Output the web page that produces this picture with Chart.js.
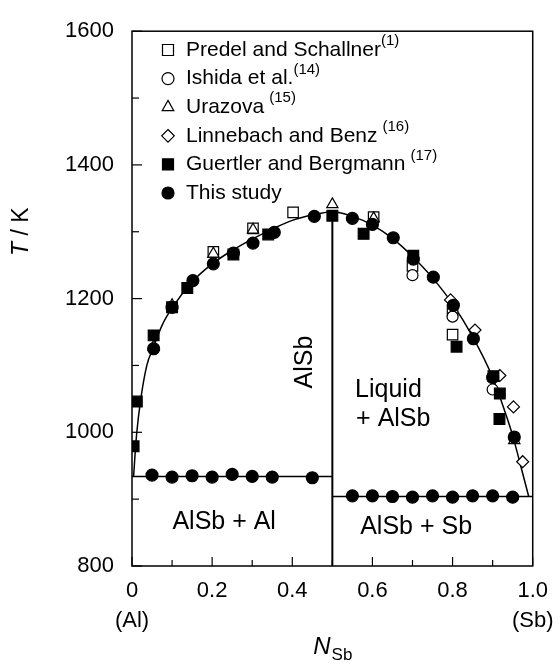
<!DOCTYPE html>
<html>
<head>
<meta charset="utf-8">
<script src="https://cdn.jsdelivr.net/npm/chart.js@4.4.0/dist/chart.umd.min.js"></script>
<style>
  html, body { margin: 0; padding: 0; background: #fff; }
  #wrap { width: 560px; height: 668px; }
</style>
</head>
<body>
<div id="wrap"><canvas id="chart" width="560" height="668"></canvas></div>
<script>
// Liquidus (berechnete Kurve)
const curveN = [0.004, 0.008, 0.012, 0.021, 0.037, 0.054, 0.075, 0.1, 0.15, 0.2, 0.25, 0.3, 0.35, 0.4, 0.45, 0.5,
                0.55, 0.6, 0.65, 0.7, 0.75, 0.8, 0.85, 0.9, 0.93, 0.95, 0.97, 0.99];
const curveT = [934, 970, 1000, 1046, 1100, 1128, 1160, 1186, 1225, 1252, 1272, 1289, 1304, 1317, 1325, 1330,
                1323, 1310, 1290, 1263, 1231, 1192, 1143, 1082, 1032, 995, 950, 904];

// Eutektika
const eutAlN = [0, 0.5];
const eutAlT = [934, 934];
const eutSbN = [0.5, 1.0];
const eutSbT = [904, 904];
const alsbN = [0.5, 0.5];
const alsbT = [800, 1330];

// This study
const studyLiqN = [0.054, 0.1, 0.152, 0.203, 0.253, 0.302, 0.355, 0.455, 0.55, 0.6, 0.652, 0.702, 0.752, 0.802, 0.852, 0.9, 0.954];
const studyLiqT = [1125, 1187, 1227, 1252, 1268, 1283, 1299, 1323, 1320, 1311, 1291, 1259, 1232, 1190, 1140, 1082, 993];
const studyEutAlN = [0.05, 0.1, 0.15, 0.2, 0.25, 0.3, 0.35, 0.45];
const studyEutAlT = [936, 933, 935, 933, 937, 934, 933, 932];
const studyEutSbN = [0.55, 0.6, 0.65, 0.7, 0.75, 0.8, 0.85, 0.9, 0.95];
const studyEutSbT = [905, 905, 904, 903, 905, 903, 905, 905, 903];

// Literatur
const guertlerN = [0.004, 0.012, 0.054, 0.1, 0.138, 0.253, 0.34, 0.5, 0.578, 0.702, 0.81, 0.902, 0.918, 0.917];
const guertlerT = [979, 1046, 1145, 1187, 1216, 1266, 1296, 1324, 1297, 1264, 1128, 1084, 1058, 1020];
const predelN = [0.203, 0.302, 0.402, 0.603, 0.70, 0.80, 0.80];
const predelT = [1270, 1305, 1329, 1322, 1249, 1182, 1146];
const ishidaN = [0.70, 0.80, 0.90];
const ishidaT = [1235, 1173, 1064];
const urazovaN = [0.054, 0.1, 0.203, 0.302, 0.5, 0.603, 0.954];
const urazovaT = [1128, 1190, 1267, 1303, 1341, 1320, 988];
const linnebachN = [0.795, 0.856, 0.918, 0.952, 0.975];
const linnebachT = [1198, 1153, 1085, 1038, 956];

// Achsen
const xTicks = [0, 0.2, 0.4, 0.6, 0.8, 1.0];
const yTicks = [800, 1000, 1200, 1400, 1600];

const FONT = "'Liberation Sans', Arial, Helvetica, sans-serif";
const pts = (ns, ts) => ns.map((n, i) => ({ x: n, y: ts[i] }));

const legendItems = [
    { style: 'rect', fill: false, text: 'Predel and Schallner', sup: '(1)', gap: 0 },
    { style: 'circle', fill: false, text: 'Ishida et al.', sup: '(14)', gap: 0 },
    { style: 'triangle', fill: false, text: 'Urazova', sup: '(15)', gap: 5 },
    { style: 'rectRot', fill: false, text: 'Linnebach and Benz', sup: '(16)', gap: 5 },
    { style: 'rect', fill: true, text: 'Guertler and Bergmann', sup: '(17)', gap: 5 },
    { style: 'circle', fill: true, text: 'This study', sup: '', gap: 0 }
];

function marker(label, data, style, radius, filled) {
    return {
        label: label,
        data: data,
        pointStyle: style,
        pointRadius: radius,
        pointHoverRadius: radius,
        pointBorderWidth: 1.2,
        pointBorderColor: '#000',
        pointBackgroundColor: filled ? '#000' : '#fff',
        showLine: false
    };
}

function line(data, width, smooth) {
    return {
        data: data,
        showLine: true,
        pointRadius: 0,
        borderColor: '#000',
        borderWidth: width,
        cubicInterpolationMode: smooth ? 'monotone' : 'default',
        tension: 0
    };
}

function drawGlyph(ctx, style, x, y, filled) {
    ctx.save();
    ctx.lineWidth = 1.2;
    ctx.strokeStyle = '#000';
    ctx.fillStyle = filled ? '#000' : '#fff';
    ctx.beginPath();
    if (style === 'circle') {
        ctx.arc(x, y, 6, 0, Math.PI * 2);
    } else if (style === 'rect') {
        ctx.rect(x - 5.5, y - 5.5, 11, 11);
    } else if (style === 'triangle') {
        ctx.moveTo(x, y - 6.8);
        ctx.lineTo(x + 5.8, y + 3.4);
        ctx.lineTo(x - 5.8, y + 3.4);
        ctx.closePath();
    } else if (style === 'rectRot') {
        ctx.moveTo(x, y - 6.3);
        ctx.lineTo(x + 6.3, y);
        ctx.lineTo(x, y + 6.3);
        ctx.lineTo(x - 6.3, y);
        ctx.closePath();
    }
    ctx.fill();
    ctx.stroke();
    ctx.restore();
}

const decorPlugin = {
    id: 'decor',
    beforeDatasetsDraw(chart) {
        const { ctx, chartArea: a } = chart;
        const xs = chart.scales.x, ys = chart.scales.y;
        ctx.save();
        ctx.strokeStyle = '#000';
        ctx.lineWidth = 1.5;
        ctx.strokeRect(a.left, a.top, a.right - a.left, a.bottom - a.top);
        ctx.lineWidth = 1.2;
        // Teilstriche nach innen
        for (let i = 0; i <= 10; i++) {
            const px = xs.getPixelForValue(i / 10);
            const len = i % 2 === 0 ? 9 : 6;
            ctx.beginPath();
            ctx.moveTo(px, a.bottom);
            ctx.lineTo(px, a.bottom - len);
            ctx.stroke();
        }
        for (let t = 800; t <= 1600; t += 100) {
            const py = ys.getPixelForValue(t);
            const len = t % 200 === 0 ? 10 : 7;
            ctx.beginPath();
            ctx.moveTo(a.left, py);
            ctx.lineTo(a.left + len, py);
            ctx.stroke();
        }
        ctx.restore();
    },
    afterDraw(chart) {
        const { ctx, chartArea: a } = chart;
        const xs = chart.scales.x, ys = chart.scales.y;
        ctx.save();
        ctx.fillStyle = '#000';
        ctx.textBaseline = 'middle';

        // Legende
        const legX = 168, legY0 = 50, legStep = 28.6;
        legendItems.forEach((it, i) => {
            const y = legY0 + i * legStep;
            drawGlyph(ctx, it.style, legX, y, it.fill);
            ctx.font = '21px ' + FONT;
            ctx.textAlign = 'left';
            ctx.fillText(it.text, legX + 18, y);
            if (it.sup) {
                const w = ctx.measureText(it.text).width;
                ctx.font = '15px ' + FONT;
                ctx.fillText(it.sup, legX + 18 + w + it.gap, y - 9);
            }
        });

        // Phasenfelder
        ctx.font = '25px ' + FONT;
        ctx.textAlign = 'center';
        ctx.fillText('Liquid', xs.getPixelForValue(0.64), ys.getPixelForValue(1063));
        ctx.fillText('+ AlSb', xs.getPixelForValue(0.652), ys.getPixelForValue(1019));
        ctx.fillText('AlSb + Al', xs.getPixelForValue(0.23), ys.getPixelForValue(866));
        ctx.fillText('AlSb + Sb', xs.getPixelForValue(0.709), ys.getPixelForValue(858));
        ctx.save();
        ctx.translate(xs.getPixelForValue(0.432), ys.getPixelForValue(1105));
        ctx.rotate(-Math.PI / 2);
        ctx.fillText('AlSb', 0, 0);
        ctx.restore();

        // Achsenbeschriftung x
        ctx.font = '22px ' + FONT;
        ctx.fillText('(Al)', xs.getPixelForValue(0), 621);
        ctx.fillText('(Sb)', xs.getPixelForValue(1), 621);
        ctx.font = 'italic 24px ' + FONT;
        const nW = ctx.measureText('N').width;
        ctx.font = '17px ' + FONT;
        const sW = ctx.measureText('Sb').width;
        const cx = (a.left + a.right) / 2 - (nW + sW) / 2;
        ctx.textAlign = 'left';
        ctx.font = 'italic 24px ' + FONT;
        ctx.fillText('N', cx, 647);
        ctx.font = '17px ' + FONT;
        ctx.fillText('Sb', cx + nW + 1, 655);

        // Achsenbeschriftung y
        ctx.save();
        ctx.translate(22, ys.getPixelForValue(1300));
        ctx.rotate(-Math.PI / 2);
        ctx.font = 'italic 23px ' + FONT;
        const tW = ctx.measureText('T').width;
        ctx.font = '23px ' + FONT;
        const kW = ctx.measureText(' / K').width;
        ctx.textAlign = 'left';
        ctx.font = 'italic 23px ' + FONT;
        ctx.fillText('T', -(tW + kW) / 2, 0);
        ctx.font = '23px ' + FONT;
        ctx.fillText(' / K', -(tW + kW) / 2 + tW, 0);
        ctx.restore();

        ctx.restore();
    }
};

new Chart(document.getElementById('chart').getContext('2d'), {
    type: 'scatter',
    data: {
        datasets: [
            marker('This study', pts(studyLiqN, studyLiqT).concat(pts(studyEutAlN, studyEutAlT), pts(studyEutSbN, studyEutSbT)), 'circle', 6, true),
            marker('Guertler and Bergmann', pts(guertlerN, guertlerT), 'rect', 7.6, true),
            marker('Urazova', pts(urazovaN, urazovaT), 'triangle', 6.5, false),
            marker('Linnebach and Benz', pts(linnebachN, linnebachT), 'rectRot', 6, false),
            marker('Ishida et al.', pts(ishidaN, ishidaT), 'circle', 5.5, false),
            marker('Predel and Schallner', pts(predelN, predelT), 'rect', 7.4, false),
            line(pts(curveN, curveT), 1.5, true),
            line(pts(eutAlN, eutAlT), 1.5, false),
            line(pts(eutSbN, eutSbT), 1.5, false),
            line(pts(alsbN, alsbT), 2, false)
        ]
    },
    options: {
        responsive: false,
        animation: false,
        devicePixelRatio: 1,
        layout: { padding: { top: 25, right: 27, bottom: 0, left: 0 } },
        plugins: {
            legend: { display: false },
            tooltip: { enabled: false }
        },
        scales: {
            x: {
                type: 'linear',
                min: 0,
                max: 1,
                afterBuildTicks: scale => { scale.ticks = xTicks.map(v => ({ value: v })); },
                afterFit: scale => { scale.height = 102; },
                ticks: {
                    color: '#000',
                    font: { family: FONT, size: 22 },
                    padding: 12,
                    maxRotation: 0,
                    callback: v => v === 0 ? '0' : v.toFixed(1)
                },
                grid: { display: false, drawTicks: false },
                border: { display: false }
            },
            y: {
                type: 'linear',
                min: 800,
                max: 1600,
                afterBuildTicks: scale => { scale.ticks = yTicks.map(v => ({ value: v })); },
                afterFit: scale => { scale.width = 132; },
                ticks: {
                    color: '#000',
                    font: { family: FONT, size: 22 },
                    padding: 18,
                    callback: v => String(v)
                },
                grid: { display: false, drawTicks: false },
                border: { display: false }
            }
        }
    },
    plugins: [decorPlugin]
});
</script>
</body>
</html>
